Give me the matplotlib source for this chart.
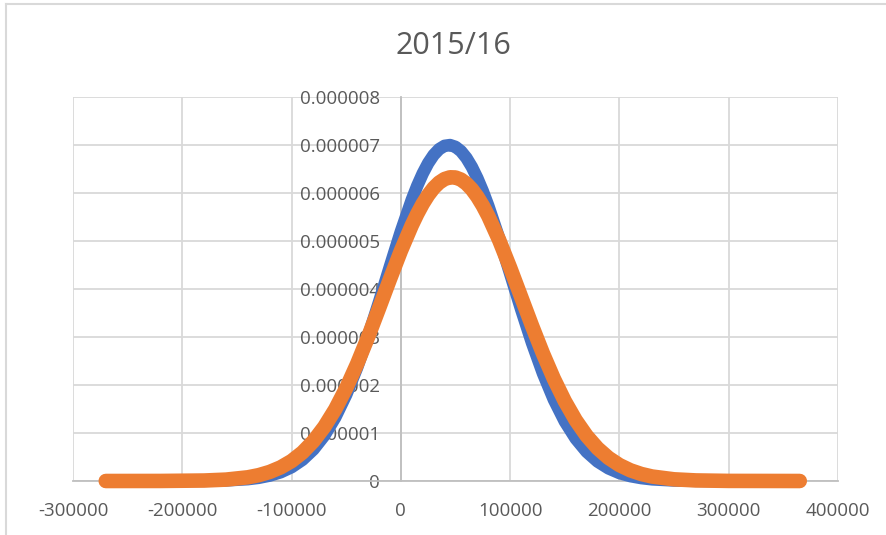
import matplotlib
matplotlib.use("Agg")
import matplotlib.pyplot as plt
from matplotlib.lines import Line2D

# x positions (same for both series)
x_vals = [-270000, -220000, -180000, -160000, -140000, -130000, -120000, -110000,
          -100000, -90000, -80000, -70000, -60000, -50000, -40000, -30000, -20000,
          -10000, 0, 10000, 15000, 20000, 25000, 30000, 35000, 40000, 45000, 50000,
          55000, 60000, 65000, 70000, 75000, 80000, 90000,
          100000, 110000, 120000, 130000, 140000, 150000, 160000, 170000, 180000,
          190000, 200000, 210000, 220000, 230000, 250000, 270000, 300000, 365000]

# blue series (x 1e-6)
blue_vals = [0.0, 0.0, 0.003, 0.012, 0.038, 0.066, 0.112, 0.182,
             0.288, 0.442, 0.657, 0.947, 1.325, 1.797, 2.363, 3.014, 3.727,
             4.469, 5.197, 5.859, 6.150, 6.406, 6.622, 6.792, 6.913, 6.983, 6.999, 6.961,
             6.871, 6.730, 6.541, 6.308, 6.038, 5.734, 5.055,
             4.320, 3.581, 2.878, 2.243, 1.695, 1.242, 0.883, 0.608, 0.406,
             0.263, 0.165, 0.101, 0.060, 0.034, 0.010, 0.003, 0.0, 0.0]

# orange series (x 1e-6)
orange_vals = [0.0, 0.001, 0.010, 0.029, 0.077, 0.122, 0.189, 0.284,
               0.416, 0.595, 0.830, 1.129, 1.496, 1.935, 2.440, 2.999, 3.596,
               4.204, 4.793, 5.327, 5.564, 5.775, 5.956, 6.104, 6.216, 6.291, 6.327, 6.323,
               6.279, 6.196, 6.077, 5.922, 5.735, 5.519, 5.015,
               4.443, 3.839, 3.235, 2.657, 2.129, 1.664, 1.267, 0.941, 0.682,
               0.482, 0.332, 0.223, 0.146, 0.093, 0.035, 0.012, 0.002, 0.0]

x_ticks = [-300000, -200000, -100000, 0, 100000, 200000, 300000, 400000]
y_ticks = [0, 0.000001, 0.000002, 0.000003, 0.000004, 0.000005, 0.000006, 0.000007, 0.000008]
y_labels = ["0", "0.000001", "0.000002", "0.000003", "0.000004",
            "0.000005", "0.000006", "0.000007", "0.000008"]

plt.rcParams['font.family'] = ['Open Sans', 'DejaVu Sans']
text_col = '#595959'
grid_col = '#D9D9D9'

fig = plt.figure(figsize=(8.86, 5.35), dpi=100)
ax = fig.add_axes([73 / 886, 1 - 481 / 535, 765 / 886, 384 / 535])

ax.plot(x_vals, [v * 1e-6 for v in blue_vals], color='#4472C4', lw=9,
        solid_capstyle='round', solid_joinstyle='round', zorder=3, clip_on=False)
ax.plot(x_vals, [v * 1e-6 for v in orange_vals], color='#ED7D31', lw=10.5,
        solid_capstyle='round', solid_joinstyle='round', zorder=4, clip_on=False)

ax.set_xlim(-300000, 400000)
ax.set_ylim(0, 0.000008)
ax.set_xticks(x_ticks)
ax.set_xticklabels([str(t) for t in x_ticks])
ax.set_yticks(y_ticks)
ax.set_yticklabels(y_labels)
ax.grid(True, color=grid_col, lw=1.3, zorder=0)
ax.set_axisbelow(True)

ax.spines['left'].set_position(('data', 0))
for s in ['top', 'right']:
    ax.spines[s].set_visible(False)
for s in ['left', 'bottom']:
    ax.spines[s].set_color('#BFBFBF')
    ax.spines[s].set_linewidth(1.3)
    ax.spines[s].set_zorder(1)

ax.tick_params(axis='both', length=0, labelsize=13.5, labelcolor=text_col)
ax.tick_params(axis='x', pad=15)
ax.tick_params(axis='y', pad=15)

fig.text(453 / 886, 1 - 46 / 535, "2015/16", fontsize=22, color=text_col,
         ha='center', va='center')

# chart border (left and top visible)
fig.add_artist(Line2D([6 / 886, 6 / 886], [0, 1 - 4 / 535], transform=fig.transFigure,
                      color=grid_col, lw=1.5))
fig.add_artist(Line2D([6 / 886, 1], [1 - 4 / 535, 1 - 4 / 535], transform=fig.transFigure,
                      color=grid_col, lw=1.5))

fig.savefig('out.png', dpi=100)
